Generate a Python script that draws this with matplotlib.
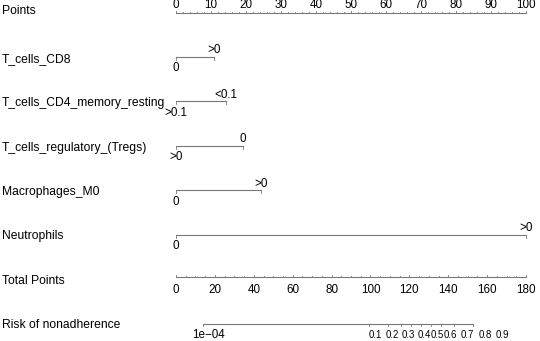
import matplotlib
matplotlib.use("Agg")
import matplotlib.pyplot as plt
import numpy as np

plt.rcParams['font.family'] = ['Liberation Sans', 'DejaVu Sans']

# row names of the nomogram
row_names = ["Points", "T_cells_CD8", "T_cells_CD4_memory_resting",
             "T_cells_regulatory_(Tregs)", "Macrophages_M0", "Neutrophils",
             "Total Points", "Risk of nonadherence"]

# variables: points at the right end, label at left (0 pts) and right end
var_points = [10.8, 14.2, 19.0, 24.2, 100.0]
var_low = ["0", ">0.1", ">0", "0", "0"]
var_high = [">0", "<0.1", "0", ">0", ">0"]

points_ticks = np.arange(0, 101, 10)
total_ticks = np.arange(0, 181, 20)
total_max = 180

# risk axis: probability -> total points
risk_center = 126.0   # total points where risk = 0.5
risk_slope = 12.2     # total points per logit unit
risk_ticks = [1e-4, 0.1, 0.2, 0.3, 0.4, 0.5, 0.6, 0.7, 0.8, 0.9]
risk_labels = ["1e\u221204", "0.1", "0.2", "0.3", "0.4", "0.5", "0.6", "0.7", "0.8", "0.9"]
# label centres (total points) as spread out in the original
risk_label_tp = [16.5, 102.4, 111.1, 119.3, 127.6, 134.3, 141.0, 149.7, 159.0, 167.7]

gray = "#777777"

fig = plt.figure(figsize=(5.4, 3.41), dpi=100)
ax = fig.add_axes([0, 0, 1, 1])
ax.set_xlim(-176 / 3.5, (540 - 176) / 3.5)
ax.set_ylim(341, 0)
ax.axis("off")

row_y = [11.5] + [58.9 + 44.4 * i for i in range(7)]
for name, y in zip(row_names, row_y):
    ax.text(-176 / 3.5 + 2 / 3.5, y, name, fontsize=8.7, va="center", ha="left")

# Points axis
py = 13
ax.plot([0, 100], [py, py], color=gray, lw=0.8)
for t in np.arange(0, 101, 2):
    h = 2.5 if t % 10 == 0 else 1.5
    ax.plot([t, t], [py, py - h], color=gray, lw=0.6)
for t in points_ticks:
    ax.text(t, py - 2, str(t), fontsize=8.4, ha="center", va="bottom")

# variable rows
for i, (pts, lo, hi) in enumerate(zip(var_points, var_low, var_high)):
    y = row_y[i + 1] - 2
    ax.plot([0, pts], [y, y], color=gray, lw=0.8)
    for t in (0, pts):
        ax.plot([t, t], [y, y + 3], color=gray, lw=0.6)
    ax.text(pts, y - 0.5, hi, fontsize=8.4, ha="center", va="bottom")
    ax.text(0, y + 5.5, lo, fontsize=8.4, ha="center", va="top")

# Total points axis
ty = 277
scale = 100 / total_max
ax.plot([0, 100], [ty, ty], color=gray, lw=0.8)
for t in np.arange(0, total_max + 1, 5):
    h = 2.5 if t % 20 == 0 else 1.5
    ax.plot([t * scale, t * scale], [ty, ty - h], color=gray, lw=0.6)
for t in total_ticks:
    ax.text(t * scale, ty + 13, str(t), fontsize=8.4, ha="center", va="center")

# Risk axis
ry = 324
risk_tp = [risk_center + risk_slope * np.log(p / (1 - p)) for p in risk_ticks]
ax.plot([risk_tp[0] * scale, risk_tp[-1] * scale], [ry, ry], color=gray, lw=0.8)
for tp in risk_tp:
    ax.plot([tp * scale, tp * scale], [ry, ry + 2], color=gray, lw=0.6)
for lab, tp in zip(risk_labels, risk_label_tp):
    fs = 8.4 if lab.startswith("1e") else 6.9
    ax.text(tp * scale, ry + 11, lab, fontsize=fs, ha="center", va="center")

fig.savefig("out.png", dpi=100)
